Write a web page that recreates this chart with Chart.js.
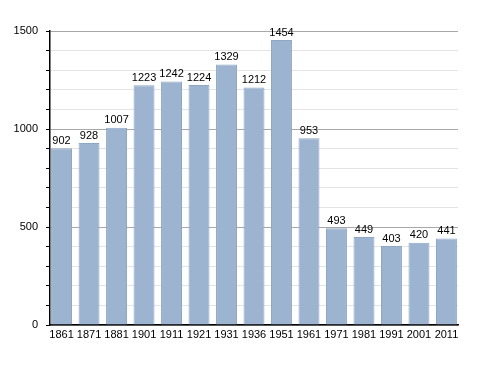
<!DOCTYPE html>
<html>
<head>
<meta charset="utf-8">
<script src="https://cdn.jsdelivr.net/npm/chart.js@4"></script>
<style>
  html, body { margin: 0; padding: 0; background: #fff; }
  #wrap { width: 488px; height: 373px; }
</style>
</head>
<body>
<div id="wrap"><canvas id="c" width="488" height="373"></canvas></div>
<script>
const years = ['1861', '1871', '1881', '1901', '1911', '1921', '1931', '1936', '1951', '1961', '1971', '1981', '1991', '2001', '2011'];
const population = [902, 928, 1007, 1223, 1242, 1224, 1329, 1212, 1454, 953, 493, 449, 403, 420, 441];
const yMax = 1500;
const yStep = 100;
const majorStep = 500;

// value labels above each bar
const barLabels = {
  id: 'barLabels',
  afterDatasetsDraw(chart) {
    const ctx = chart.ctx;
    const meta = chart.getDatasetMeta(0);
    ctx.save();
    ctx.font = '11px "Liberation Sans", Arial, sans-serif';
    ctx.fillStyle = '#000';
    ctx.textAlign = 'center';
    ctx.textBaseline = 'bottom';
    meta.data.forEach((bar, i) => {
      ctx.fillText(String(population[i]), bar.x, bar.y - 2);
    });
    ctx.restore();
  },
};

new Chart(document.getElementById('c'), {
  type: 'bar',
  data: {
    labels: years,
    datasets: [{
      data: population,
      backgroundColor: '#9cb4cf',
      borderColor: '#8ea7c4',
      borderWidth: 1,
      barPercentage: 0.762,
      categoryPercentage: 1,
    }],
  },
  options: {
    responsive: false,
    animation: false,
    layout: { padding: { left: 0, top: 31, right: 30, bottom: 28 } },
    plugins: {
      legend: { display: false },
      tooltip: { enabled: false },
    },
    scales: {
      x: {
        grid: { display: false, drawTicks: false },
        border: { color: '#000', width: 1.5 },
        ticks: {
          color: '#000',
          font: { size: 11, family: '"Liberation Sans", Arial, sans-serif' },
          padding: 3,
          maxRotation: 0,
          autoSkip: false,
        },
        afterFit(scale) { scale.height = 20; },
        // bars touch both ends of the axis, so trim the usual half-category offset
        afterUpdate(scale) {
          scale._startValue = -0.42;
          scale._valueRange = years.length - 1 + 0.84;
        },
      },
      y: {
        min: 0,
        max: yMax,
        border: { color: '#000', width: 1.5 },
        grid: {
          color: (c) => (c.tick && c.tick.value % majorStep === 0 ? '#a8a8a8' : '#e4e4e4'),
          tickColor: '#000',
          tickLength: 4,
        },
        ticks: {
          stepSize: yStep,
          color: '#000',
          font: { size: 11, family: '"Liberation Sans", Arial, sans-serif' },
          padding: 8,
          callback: (v) => (v % majorStep === 0 ? String(v) : ''),
        },
        afterFit(scale) { scale.width = 50; },
      },
    },
  },
  plugins: [barLabels],
});
</script>
</body>
</html>
